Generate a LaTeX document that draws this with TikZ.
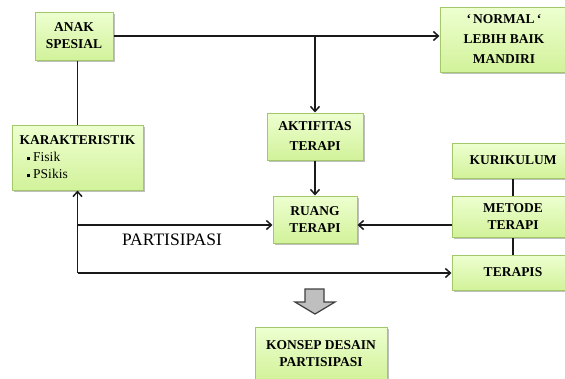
\documentclass[tikz,border=0pt]{standalone}
\usepackage{fontspec}
\setmainfont{Liberation Serif}
\usetikzlibrary{arrows.meta,shadows}
\definecolor{boxtop}{HTML}{EDFFD0}
\definecolor{boxbot}{HTML}{D2F29A}
\definecolor{boxline}{HTML}{A3C86A}
\definecolor{lnk}{HTML}{1A1A1A}
\definecolor{grarrow}{HTML}{BFBFBF}
\definecolor{grline}{HTML}{3F3F3F}
\tikzset{
 gbox/.style={draw=boxline, line width=1pt, top color=boxtop, bottom color=boxbot,
   drop shadow={shadow xshift=2pt, shadow yshift=-2pt, opacity=0.25, fill=black},
   font=\fontsize{13.5}{17}\selectfont\bfseries, align=center, inner sep=0pt},
 link/.style={draw=lnk, line width=1.9pt},
 arr/.style={link, -{Straight Barb[length=5pt,width=9pt,line width=1.5pt]}},
}
\newcommand{\sqbullet}{\hspace*{7pt}\rule[1.5pt]{3.5pt}{3.5pt}\hspace{3pt}}
\begin{document}
\begin{tikzpicture}[x=1pt,y=-1pt]
\useasboundingbox (0,0) rectangle (565,378);
\clip (0,0) rectangle (565,378);
\node[gbox, minimum width=78pt, minimum height=48pt] (anak) at (74,36) {ANAK\\SPESIAL};
\node[gbox, minimum width=131pt, minimum height=65pt, align=left] (karak) at (77.5,157.5)
  {KARAKTERISTIK\\{\mdseries\sqbullet Fisik}\\{\mdseries\sqbullet PSikis}};
\node[gbox, minimum width=128pt, minimum height=65pt] (normal) at (504,39.5)
  {`\,NORMAL\,`\\[3pt]LEBIH BAIK\\[3pt]MANDIRI};
\node[gbox, minimum width=96pt, minimum height=47pt] (aktif) at (315,136.5) {AKTIFITAS\\[3pt]TERAPI};
\node[gbox, minimum width=122pt, minimum height=35pt] (kurik) at (513,160.5) {KURIKULUM};
\node[gbox, minimum width=122pt, minimum height=41pt] (metode) at (513,216.5) {METODE\\TERAPI};
\node[gbox, minimum width=122pt, minimum height=35pt] (terapis) at (513,272.5) {TERAPIS};
\node[gbox, minimum width=84pt, minimum height=47pt] (ruang) at (315,219.5) {RUANG\\TERAPI};
\node[gbox, minimum width=132pt, minimum height=53pt] (konsep) at (321,353.5) {KONSEP DESAIN\\PARTISIPASI};
\node[font=\fontsize{17.5}{20}\selectfont, inner sep=0pt] (partis) at (172,240) {PARTISIPASI};
\coordinate (rowb) at (0,225);
\coordinate (corner) at (77.5,273);
% connectors
\draw[arr] (anak.east) -- (anak.east -| normal.west);
\draw[arr] (aktif.north |- anak.east) -- (aktif.north);
\draw[link] (karak.north |- anak.south) -- (karak.north);
\draw[arr] (aktif.south) -- (ruang.north);
\draw[link] (kurik.south) -- (metode.north);
\draw[link] (metode.south) -- (terapis.north);
\draw[arr] (metode.west |- rowb) -- (ruang.east |- rowb);
\draw[arr] (corner) -- (karak.south);
\draw[arr] (karak.south |- rowb) -- (ruang.west |- rowb);
\draw[arr] (corner) -- (corner -| terapis.west);
% grey block arrow
\draw[fill=grarrow, draw=grline, line width=1.2pt, line join=miter]
  (305,289) -- (324,289) -- (324,302) -- (335,302) -- (315,314) -- (295,302) -- (305,302) -- cycle;
\end{tikzpicture}
\end{document}
